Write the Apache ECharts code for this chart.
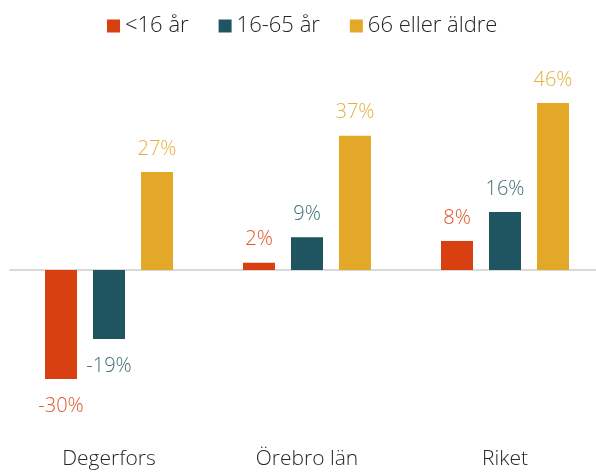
<!DOCTYPE html>
<html>
<head>
<meta charset="utf-8">
<script src="https://cdn.jsdelivr.net/npm/echarts@6/dist/echarts.min.js"></script>
<style>
  html, body { margin: 0; padding: 0; background: #fff; overflow: hidden; }
  #myChart { width: 604px; height: 474px; }
</style>
</head>
<body>
<div id="myChart"></div>
<script>
// data
var categories = ['Degerfors', 'Örebro län', 'Riket'];
var seriesNames = ['<16 år', '16-65 år', '66 eller äldre'];
var under16 = [-30, 2, 8];
var age16to65 = [-19, 9, 16];
var over66 = [27, 37, 46];

var barColors = ['#d84012', '#1f5560', '#e3a828'];
var labelColors = ['#e0552a', '#3f6e75', '#e6b03e'];
var fontName = '"Open Sans", Lato, sans-serif';

function makeSeries(idx, values) {
  return {
    name: seriesNames[idx],
    type: 'bar',
    xAxisIndex: 0,
    barWidth: 32,
    barGap: '50%',
    itemStyle: { color: barColors[idx] },
    data: values.map(function (v) {
      return {
        value: v,
        label: v < 0 ? { position: 'bottom', distance: 17 } : { position: 'top' }
      };
    }),
    label: {
      show: true,
      distance: 13,
      color: labelColors[idx],
      fontFamily: fontName,
      fontWeight: 300,
      fontSize: 20,
      formatter: '{c}%'
    }
  };
}

var myChart = echarts.init(document.getElementById('myChart'));
var option = {
  animation: false,
  legend: {
    left: 102,
    top: 10,
    itemWidth: 13,
    itemHeight: 13,
    itemGap: 30,
    icon: 'rect',
    textStyle: { fontFamily: fontName, fontWeight: 300, fontSize: 22, color: '#262626' },
    data: seriesNames
  },
  grid: { left: 10, width: 594, top: 88.5, height: 326.7 },
  xAxis: [
    {
      type: 'category',
      data: categories,
      axisLine: { onZero: true, lineStyle: { color: '#d9d9d9', width: 2 } },
      axisTick: { show: false },
      axisLabel: { show: false }
    },
    {
      type: 'category',
      data: categories,
      position: 'bottom',
      axisLine: { show: false, onZero: false },
      axisTick: { show: false },
      axisLabel: {
        margin: 33,
        fontFamily: fontName,
        fontWeight: 300,
        fontSize: 21,
        color: '#262626'
      }
    }
  ],
  yAxis: {
    type: 'value',
    min: -40,
    max: 50,
    interval: 10,
    show: false
  },
  series: [
    makeSeries(0, under16),
    makeSeries(1, age16to65),
    makeSeries(2, over66)
  ]
};
myChart.setOption(option);
</script>
</body>
</html>
